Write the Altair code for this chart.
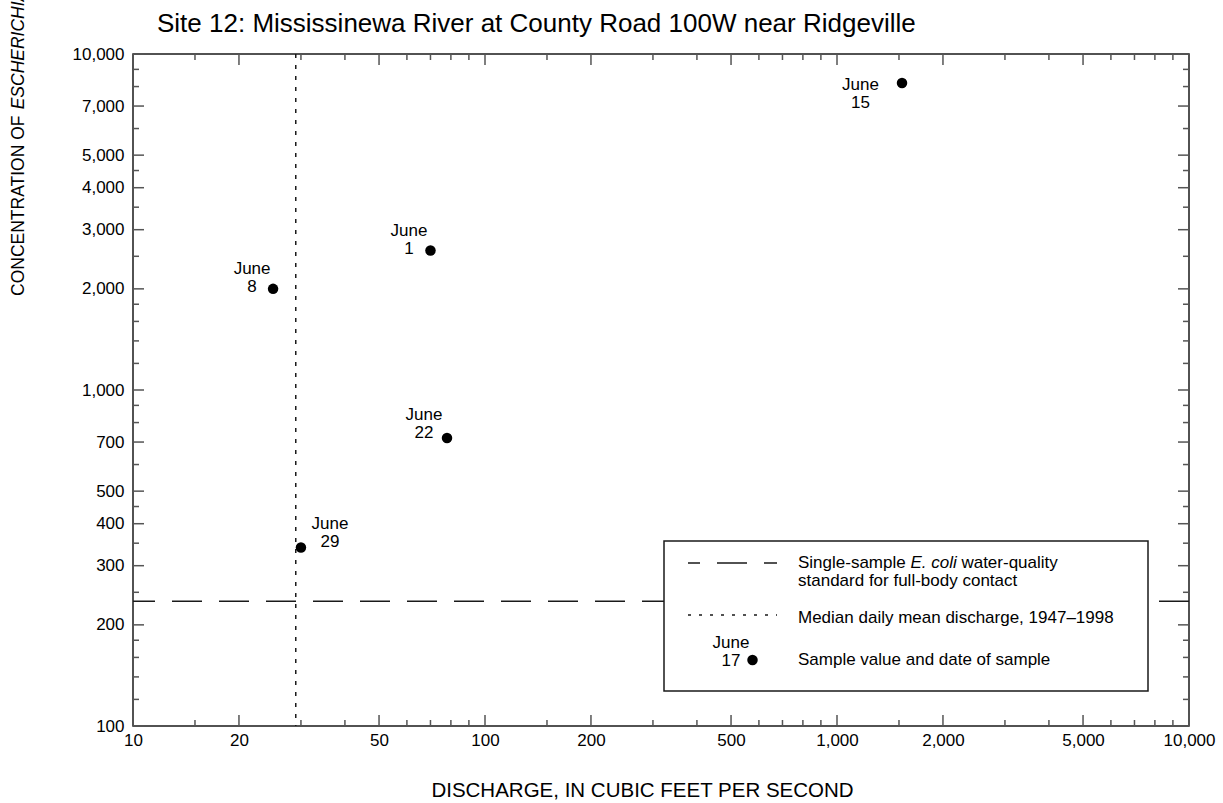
import altair as alt
import pandas as pd

# Bacteria samples, June 1999
sample_dates = ["June 1", "June 8", "June 15", "June 22", "June 29"]
sample_months = ["June", "June", "June", "June", "June"]
sample_days = ["1", "8", "15", "22", "29"]
discharge_cfs = [70, 25, 1530, 78, 30]
ecoli_per_100ml = [2600, 2000, 8200, 720, 340]

# Reference values
ecoli_standard = [235]          # single-sample standard, colonies per 100 mL
median_discharge = [29]         # median daily mean discharge, 1947-1998, ft3/s

# Axis tick values
x_labeled = [10, 20, 50, 100, 200, 500, 1000, 2000, 5000, 10000]
x_minor = [15, 30, 40, 60, 70, 80, 90, 150, 300, 400, 600, 700, 800, 900,
           1500, 3000, 4000, 6000, 7000, 8000, 9000]
y_labeled = [100, 200, 300, 400, 500, 700, 1000, 2000, 3000, 4000, 5000, 7000, 10000]
y_minor = [120, 140, 160, 180, 250, 350, 450, 600, 800, 900,
           1200, 1400, 1600, 1800, 2500, 3500, 4500, 6000, 8000, 9000]

FONT = "Liberation Sans"
W, H = 1056, 672
MAJOR, MINOR = 11, 6
INK = "#1a1a1a"
TICK = "#555555"
LINE_H = 18

samples = pd.DataFrame({
    "date": sample_dates,
    "discharge": discharge_cfs,
    "ecoli": ecoli_per_100ml,
    "label": [m + "\n" + d for m, d in zip(sample_months, sample_days)],
})

x_scale = alt.Scale(type="log", domain=[10, 10000], nice=False)
y_scale = alt.Scale(type="log", domain=[100, 10000], nice=False)

x_axis = alt.Axis(values=x_labeled, format=",", ticks=False, domain=False, grid=False,
                  labelFont=FONT, labelFontSize=17, labelColor="black", labelPadding=6,
                  labelFlush=False, labelOverlap=False,
                  title="DISCHARGE, IN CUBIC FEET PER SECOND", titleFont=FONT,
                  titleFontSize=20.5, titleFontWeight="normal", titleColor="black",
                  titleX=509, titleY=64, titleAlign="center", titleBaseline="middle")
y_axis = alt.Axis(values=y_labeled, format=",", ticks=False, domain=False, grid=False,
                  labelFont=FONT, labelFontSize=17, labelColor="black", labelPadding=9,
                  labelFlush=False, labelOverlap=False, title=None)


def X(field):
    return alt.X(field, type="quantitative", scale=x_scale, axis=x_axis)


def Y(field):
    return alt.Y(field, type="quantitative", scale=y_scale, axis=y_axis)


def vals(values):
    return pd.DataFrame({"v": values})


one = pd.DataFrame({"k": [0]})

# Inward ticks on all four sides
ticks = []
for values, length in ((x_labeled, MAJOR), (x_minor, MINOR)):
    ticks.append(alt.Chart(vals(values)).mark_rule(color=TICK, strokeWidth=1.5).encode(
        x=X("v"), y=alt.value(H), y2=alt.value(H - length)))
    ticks.append(alt.Chart(vals(values)).mark_rule(color=TICK, strokeWidth=1.5).encode(
        x=X("v"), y=alt.value(0), y2=alt.value(length)))
for values, length in ((y_labeled, MAJOR), (y_minor, MINOR)):
    ticks.append(alt.Chart(vals(values)).mark_rule(color=TICK, strokeWidth=1.5).encode(
        y=Y("v"), x=alt.value(0), x2=alt.value(length)))
    ticks.append(alt.Chart(vals(values)).mark_rule(color=TICK, strokeWidth=1.5).encode(
        y=Y("v"), x=alt.value(W), x2=alt.value(W - length)))

# Reference lines
standard_line = alt.Chart(vals(ecoli_standard)).mark_rule(
    color=INK, strokeWidth=1.5, strokeDash=[30, 17]).encode(y=Y("v"))
median_line = alt.Chart(vals(median_discharge)).mark_rule(
    color=INK, strokeWidth=1.5, strokeDash=[4, 7]).encode(x=X("v"))

# Explanation box
LX0, LX1, LY0, LY1 = 531, 1015, 487, 637
TX = 665
box = alt.Chart(one).mark_rect(fill="white", stroke=INK, strokeWidth=1.5).encode(
    x=alt.value(LX0), x2=alt.value(LX1), y=alt.value(LY0), y2=alt.value(LY1))
key_dash = alt.Chart(one).mark_rule(color=INK, strokeWidth=1.5, strokeDash=[30, 17],
                                    strokeDashOffset=18).encode(
    x=alt.value(555), x2=alt.value(644), y=alt.value(509))
key_dot = alt.Chart(one).mark_rule(color=INK, strokeWidth=1.5, strokeDash=[3, 8]).encode(
    x=alt.value(555), x2=alt.value(644), y=alt.value(561))
key_point = alt.Chart(one).mark_point(filled=True, size=110, color="black", opacity=1).encode(
    x=alt.value(619.5), y=alt.value(606))


def note(text, x, y, **kw):
    props = dict(font=FONT, fontSize=17, color="black", align="left", baseline="middle")
    props.update(kw)
    return alt.Chart(one).mark_text(**props).encode(
        x=alt.value(x), y=alt.value(y), text=alt.value(text))


key_texts = [
    note("Single-sample", TX, 509),
    note("E. coli", TX + 112.4, 509, fontStyle="italic"),
    note("water-quality", TX + 112.4 + 46.3 + 4.7, 509),
    note("standard for full-body contact", TX, 527),
    note("Median daily mean discharge, 1947\u20131998", TX, 564),
    note("Sample value and date of sample", TX, 606),
    alt.Chart(one).mark_text(font=FONT, fontSize=17, lineHeight=LINE_H, lineBreak="\n",
                             align="center", baseline="middle").encode(
        x=alt.value(598), y=alt.value(589), text=alt.value("June\n17")),
]

# Sample points and their date labels (offsets of the first line from the point)
points = alt.Chart(samples).mark_point(filled=True, size=110, color="black", opacity=1).encode(
    x=X("discharge"), y=Y("ecoli"))

label_offsets = {
    "June 1": (-21.5, -19.5),
    "June 8": (-21, -20),
    "June 15": (-41.5, 2),
    "June 22": (-23, -22.5),
    "June 29": (29, -23),
}
labels = [
    alt.Chart(samples).transform_filter(alt.datum.date == d).mark_text(
        font=FONT, fontSize=17, lineHeight=LINE_H, lineBreak="\n", align="center",
        baseline="middle", dx=dx, dy=dy, color="black").encode(
        x=X("discharge"), y=Y("ecoli"), text="label:N")
    for d, (dx, dy) in label_offsets.items()
]

# Chart title and the rotated concentration title with its italic genus name
YT = 17.5
title = note("Site 12: Mississinewa River at County Road 100W near Ridgeville", 24, -30,
             fontSize=26)
y_title = [
    note("CONCENTRATION OF ", -114.5, 242, angle=270, fontSize=YT),
    note("ESCHERICHIA COLI", -114.5, 242 - 10.667 * YT, angle=270, fontSize=YT,
         fontStyle="italic"),
    note(", IN COLONIES PER 100 MILLILITERS", -114.5, 242 - 20.113 * YT, angle=270,
         fontSize=YT),
]

chart = alt.layer(
    *ticks, standard_line, median_line, box, key_dash, key_dot, key_point,
    *key_texts, points, *labels, title, *y_title
).properties(
    width=W, height=H,
    autosize=alt.AutoSizeParams(type="none"),
    padding={"left": 133, "top": 54, "right": 34, "bottom": 77},
    background="white",
).configure_view(stroke=INK, strokeWidth=1.5)

chart.save("out.html", embed_options={"renderer": "svg", "actions": False})
